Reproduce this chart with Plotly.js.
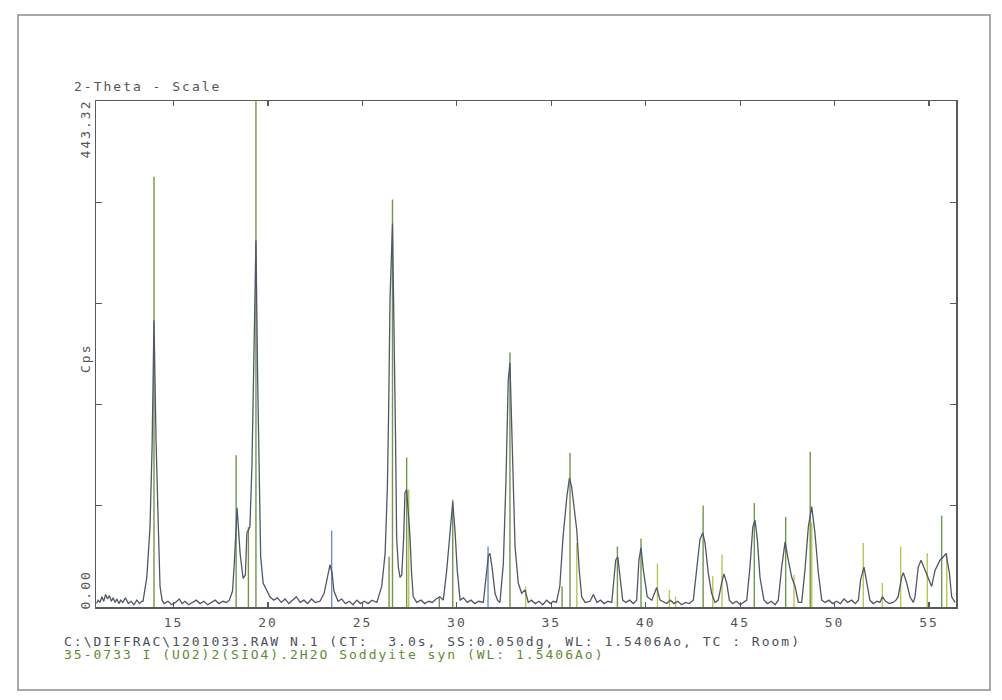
<!DOCTYPE html>
<html>
<head>
<meta charset="utf-8">
<script src="https://cdn.plot.ly/plotly-3.0.1.min.js"></script>
<style>
  html, body { margin: 0; padding: 0; background: #ffffff; }
  #chart { width: 1002px; height: 700px; }
</style>
</head>
<body>
<div id="chart"></div>
<script>
// ---- measured pattern (2-theta in degrees, intensity in Cps) ----
const twoTheta = [
  10.92, 11.0, 11.1, 11.2, 11.3, 11.4, 11.5, 11.6, 11.7, 11.8, 11.9, 12.0, 12.1, 12.2, 12.3, 12.45, 12.6, 12.75, 12.9, 13.05, 13.2, 13.3,
  13.38, 13.58, 13.75, 13.86, 13.96, 14.07, 14.19, 14.28, 14.39,
  14.5, 14.7, 14.9, 15.1, 15.3, 15.45, 15.6, 15.8, 16.0, 16.2, 16.4, 16.6, 16.8, 17.0, 17.2, 17.4, 17.6, 17.8, 17.95,
  18.12, 18.22, 18.36, 18.52, 18.68, 18.80, 18.88, 19.04, 19.15, 19.26, 19.36, 19.45, 19.52, 19.61, 19.74, 19.93,
  20.1, 20.3, 20.5, 20.7, 20.9, 21.1, 21.3, 21.5, 21.7, 21.9, 22.1, 22.3, 22.5, 22.75,
  22.97, 23.18, 23.28, 23.39, 23.49, 23.71,
  23.9, 24.1, 24.3, 24.5, 24.7, 24.9, 25.1, 25.3, 25.5, 25.76,
  26.02, 26.20, 26.32, 26.38, 26.46, 26.59, 26.67, 26.75, 26.81, 26.90, 26.99, 27.08, 27.18, 27.25, 27.34, 27.43, 27.52, 27.60, 27.69, 27.87,
  28.1, 28.3, 28.5, 28.7, 28.9, 29.1,
  29.28, 29.46, 29.64, 29.78, 29.90, 30.02, 30.17,
  30.35, 30.55, 30.75, 30.95, 31.15, 31.40,
  31.58, 31.67, 31.75, 31.86, 32.02, 32.15, 32.28,
  32.46, 32.60, 32.72, 32.81, 32.90, 32.99, 33.08, 33.25, 33.43, 33.61, 33.78,
  33.95, 34.15, 34.35, 34.55, 34.75, 34.95, 35.1, 35.27,
  35.45, 35.62, 35.82, 35.96, 36.08, 36.20, 36.35, 36.48, 36.61, 36.79,
  37.05, 37.23, 37.42, 37.6, 37.8, 38.0, 38.20,
  38.28, 38.41, 38.52, 38.64, 38.78,
  38.95, 39.15, 39.35, 39.52,
  39.64, 39.75, 39.87, 39.95, 40.08, 40.32, 40.58, 40.76, 40.95, 41.11,
  41.3, 41.5, 41.7, 41.9, 42.1, 42.3, 42.52,
  42.70, 42.87, 43.02, 43.14, 43.31, 43.49, 43.67,
  43.84, 44.02, 44.14, 44.29, 44.43,
  44.6, 44.8, 45.0, 45.2, 45.35,
  45.52, 45.67, 45.79, 45.91, 46.05, 46.26,
  46.45, 46.65, 46.85, 47.02,
  47.20, 47.38, 47.55, 47.73, 47.91, 48.08,
  48.26, 48.43, 48.61, 48.79, 48.96, 49.14, 49.32,
  49.5, 49.7, 49.9, 50.1, 50.3, 50.5, 50.7, 50.9, 51.1, 51.26,
  51.38, 51.56, 51.70, 51.87,
  52.05, 52.25, 52.4, 52.53, 52.7, 52.9, 53.1, 53.25, 53.37,
  53.55, 53.64, 53.82, 53.99, 54.17,
  54.26, 54.43, 54.58, 54.79, 54.96, 55.14, 55.32, 55.58, 55.76, 55.90, 56.08, 56.20, 56.38
];
const cps = [
  3, 6, 4, 9, 5, 11, 7, 10, 5, 8, 4, 7, 3, 6, 4, 8, 3, 5, 2, 6, 3, 5,
  5, 26, 70, 140, 251, 146, 70, 18, 6,
  3, 5, 2, 4, 7, 3, 5, 2, 4, 6, 3, 5, 2, 4, 6, 3, 5, 4, 6,
  14, 40, 87, 47, 25, 28, 65, 70, 125, 225, 321, 200, 130, 44, 21, 15,
  9, 6, 8, 4, 7, 3, 6, 9, 4, 6, 3, 7, 4, 5,
  12, 30, 37, 30, 14, 5,
  7, 3, 5, 2, 6, 3, 5, 3, 6, 4,
  18, 47, 105, 165, 270, 336, 260, 150, 61, 35, 26, 28, 60, 100, 103, 85, 61, 30, 9, 4,
  6, 3, 5, 4, 7, 9,
  6, 32, 67, 92, 67, 32, 6,
  8, 4, 6, 3, 5, 4,
  32, 45, 47, 35, 12, 6, 4,
  38, 111, 199, 214, 155, 96, 53, 21, 12, 15, 4,
  6, 3, 5, 2, 6, 3, 5, 4,
  18, 61, 96, 113, 105, 87, 67, 32, 9, 4,
  5, 11, 4, 6, 3, 5, 4,
  18, 41, 44, 26, 6,
  4, 6, 3, 6,
  41, 52, 33, 24, 9, 6, 17, 6, 4, 3,
  6, 3, 5, 2, 4, 3, 6,
  32, 59, 65, 56, 30, 12, 4,
  6, 21, 29, 21, 6,
  3, 5, 2, 4, 6,
  35, 70, 76, 59, 26, 6,
  3, 5, 2, 6,
  35, 57, 41, 26, 18, 4,
  4, 32, 70, 88, 65, 30, 6,
  4, 6, 3, 5, 3, 7, 4, 6, 3, 6,
  24, 35, 21, 6,
  3, 5, 4, 9, 5, 3, 4, 6, 9,
  26, 30, 21, 9, 4,
  9, 35, 41, 32, 24, 18, 32, 41, 44, 47, 30, 9, 4
];

// ---- reference pattern 35-0733 Soddyite (stick lines) ----
const stickTheta = [13.96, 18.31, 18.96, 19.36, 26.41, 26.59, 27.34, 29.07, 29.78, 32.81, 35.57, 35.99,
                    38.50, 39.75, 43.04, 45.75, 47.41, 48.71, 55.67];
const stickCps   = [377, 133, 70, 443, 44, 357, 131, 9, 94, 223, 18, 135,
                    53, 60, 89, 91, 79, 136, 80];
const stickThetaLight = [27.45, 33.64, 36.35, 40.62, 41.25, 41.58, 43.55, 44.04, 47.85, 48.79,
                         51.52, 52.53, 53.50, 54.91, 55.94];
const stickCpsLight   = [103, 18, 56, 38, 15, 9, 27, 46, 28, 74,
                         56, 21, 53, 47, 47];
const stickThetaBlue = [23.37, 31.65];
const stickCpsBlue   = [67, 53];

// ---- axis ----
const xTicks = [15, 20, 25, 30, 35, 40, 45, 50, 55];
const yMax = 443.32;
const yTickFractions = [0, 0.2, 0.4, 0.6, 0.8, 1.0];

function sticks(xs, ys) {
  const sx = [], sy = [];
  xs.forEach((p, i) => { sx.push(p, p, null); sy.push(0, ys[i], null); });
  return { x: sx, y: sy };
}

const g = sticks(stickTheta, stickCps);
const l = sticks(stickThetaLight, stickCpsLight);
const b = sticks(stickThetaBlue, stickCpsBlue);

const mono = "DejaVu Sans Mono, Liberation Mono, monospace";
const traces = [
  { x: l.x, y: l.y, type: 'scatter', mode: 'lines', line: { color: '#b9c94a', width: 1.4 }, hoverinfo: 'skip', showlegend: false },
  { x: g.x, y: g.y, type: 'scatter', mode: 'lines', line: { color: '#74954a', width: 1.4 }, hoverinfo: 'skip', showlegend: false },
  { x: b.x, y: b.y, type: 'scatter', mode: 'lines', line: { color: '#6a8fcc', width: 1.4 }, hoverinfo: 'skip', showlegend: false },
  { x: twoTheta, y: cps, type: 'scatter', mode: 'lines', line: { color: '#4f5768', width: 1.3 }, showlegend: false }
];

const W = 1002, H = 700, L = 96, R = 956, T = 101, B = 607;
const px = v => (v - L) / (R - L);
const py = v => (B - v) / (B - T);

const layout = {
  width: W, height: H,
  margin: { l: L, r: W - R, t: T, b: H - B, pad: 0 },
  paper_bgcolor: '#ffffff', plot_bgcolor: '#ffffff',
  showlegend: false,
  xaxis: {
    range: [10.89, 56.43], showgrid: false, zeroline: false,
    showline: true, linecolor: '#5a5a5a', linewidth: 1.5, mirror: 'ticks',
    ticks: 'inside', ticklen: 5, tickwidth: 1.2, tickcolor: '#5a5a5a',
    tickmode: 'array', tickvals: xTicks, ticktext: xTicks.map(String),
    ticklabelstandoff: 3,
    tickfont: { family: mono, size: 13, color: '#555555' }
  },
  yaxis: {
    range: [0, yMax], showgrid: false, zeroline: false,
    showline: true, linecolor: '#5a5a5a', linewidth: 1.5, mirror: 'ticks',
    ticks: 'inside', ticklen: 6, tickwidth: 1.2, tickcolor: '#5a5a5a',
    tickmode: 'array', tickvals: yTickFractions.map(f => f * yMax), showticklabels: false
  },
  shapes: [
    { type: 'rect', xref: 'paper', yref: 'paper', x0: px(18), x1: px(990), y0: py(690), y1: py(15),
      line: { color: '#8c8c8c', width: 1.5 }, fillcolor: 'rgba(0,0,0,0)', layer: 'below' }
  ],
  annotations: [
    { text: '2-Theta - Scale', xref: 'paper', yref: 'paper', x: px(72), y: py(87), xanchor: 'left', yanchor: 'middle',
      showarrow: false, font: { family: mono, size: 13, color: '#555555' } },
    { text: 'C:\\DIFFRAC\\1201033.RAW N.1 (CT:  3.0s, SS:0.050dg, WL: 1.5406Ao, TC : Room)', xref: 'paper', yref: 'paper',
      x: px(62), y: py(641), xanchor: 'left', yanchor: 'middle', showarrow: false,
      font: { family: mono, size: 13, color: '#4a4f5a' } },
    { text: '35-0733 I (UO2)2(SIO4).2H2O Soddyite syn (WL: 1.5406Ao)', xref: 'paper', yref: 'paper',
      x: px(62), y: py(654), xanchor: 'left', yanchor: 'middle', showarrow: false,
      font: { family: mono, size: 13, color: '#5e8c32' } },
    { text: yMax.toFixed(2), xref: 'paper', yref: 'paper', x: px(85), y: py(104), xanchor: 'center', yanchor: 'top',
      textangle: -90, showarrow: false, font: { family: mono, size: 13, color: '#555555' } },
    { text: (0).toFixed(2), xref: 'paper', yref: 'paper', x: px(85), y: py(608), xanchor: 'center', yanchor: 'bottom',
      textangle: -90, showarrow: false, font: { family: mono, size: 13, color: '#555555' } },
    { text: 'Cps', xref: 'paper', yref: 'paper', x: px(86), y: py(359), xanchor: 'center', yanchor: 'middle',
      textangle: -90, showarrow: false, font: { family: mono, size: 13, color: '#555555' } }
  ]
};

const SPACING = 2;
const leftAnchored = new Set(['0', '1', '2']);
Plotly.newPlot('chart', traces, layout, { staticPlot: true }).then(() => {
  document.querySelectorAll('g.annotation').forEach(grp => {
    const idx = grp.getAttribute('data-index');
    const t = grp.querySelector('text.annotation-text');
    if (!t) return;
    const n = t.textContent.length;
    t.style.letterSpacing = SPACING + 'px';
    if (leftAnchored.has(idx)) {
      const x0 = parseFloat(t.getAttribute('x') || '0');
      t.setAttribute('x', x0 + n * SPACING / 2);
    }
  });
  document.querySelectorAll('.xtick text').forEach(t => { t.style.letterSpacing = SPACING + 'px'; });
});
</script>
</body>
</html>
